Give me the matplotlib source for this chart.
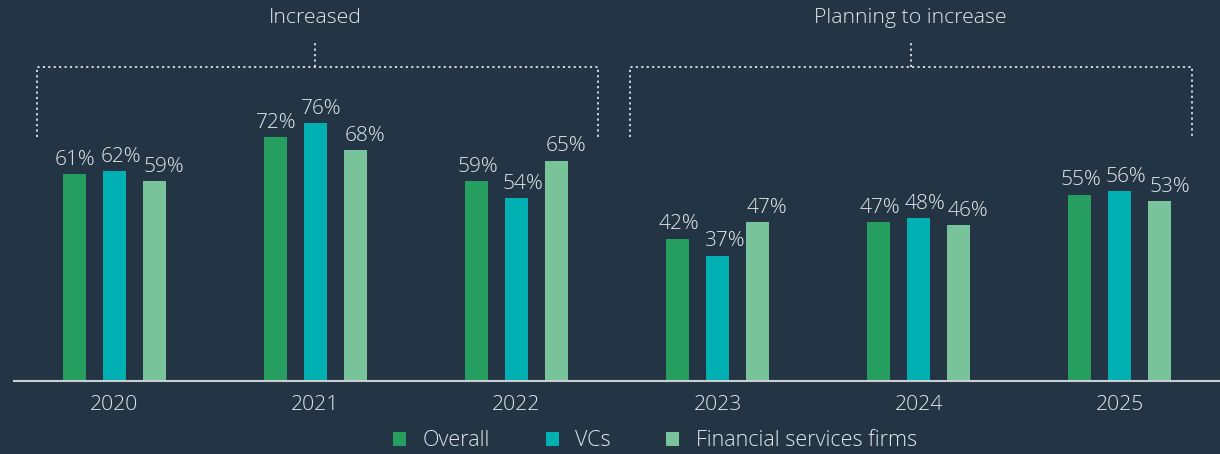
import numpy as np
import matplotlib.pyplot as plt
from matplotlib.transforms import blended_transform_factory

years = ['2020', '2021', '2022', '2023', '2024', '2025']
overall = [61, 72, 59, 42, 47, 55]
vcs = [62, 76, 54, 37, 48, 56]
fin_services = [59, 68, 65, 47, 46, 53]
series_names = ['Overall', 'VCs', 'Financial services firms']

bg = '#233544'
txt = '#e4e7ea'
colors = ['#269e60', '#00b0b2', '#78c39a']

plt.rcParams['font.family'] = ['Open Sans', 'DejaVu Sans']

fig = plt.figure(figsize=(12.2, 4.54), dpi=100, facecolor=bg)
ax = fig.add_axes([14 / 1220, 73 / 454, 1206 / 1220, 381 / 454])
ax.set_facecolor(bg)

x = np.arange(len(years))
width = 0.114
step = 0.199
# value labels sit a little to the right of their bars, more so for later series
label_shift = [0.005, 0.032, 0.047]

for i, (vals, c) in enumerate(zip([overall, vcs, fin_services], colors)):
    pos = x + (i - 1) * step
    ax.bar(pos, vals, width=width, color=c, label=series_names[i], zorder=2)
    for p, v in zip(pos, vals):
        ax.annotate(f'{v}%', (p + label_shift[i], v), xytext=(0, 3),
                    textcoords='offset points', ha='center', va='bottom',
                    color=txt, fontsize=15, fontweight='light')

ax.set_xlim(-0.4975, 5.4975)
ax.set_ylim(0, 381 / 3.39)
ax.set_xticks(x)
ax.set_xticklabels(years, color=txt, fontsize=15.2, fontweight='light')
ax.tick_params(axis='x', length=0, pad=10)
ax.set_yticks([])
for s in ['top', 'left', 'right']:
    ax.spines[s].set_visible(False)
ax.spines['bottom'].set_color('#c9ced3')
ax.spines['bottom'].set_linewidth(1.5)

# brackets above the groups
tr = blended_transform_factory(ax.transData, ax.transAxes)
y_top = 1 - 67 / 381
y_low = 1 - 137 / 381
y_stub = 1 - 40 / 381
y_lab = 1 - 18 / 381
brackets = [(-0.383, 2.408, 1.0, 'Increased'),
            (2.567, 5.358, 3.96, 'Planning to increase')]
for x0, x1, xc, lab in brackets:
    ax.plot([x0, x0, x1, x1], [y_low, y_top, y_top, y_low], transform=tr,
            color='#dfe3e6', lw=1.3, ls=(0, (1.2, 1.8)), clip_on=False)
    ax.plot([xc, xc], [y_top, y_stub], transform=tr,
            color='#dfe3e6', lw=1.3, ls=(0, (1.2, 1.8)), clip_on=False)
    ax.text(xc, y_lab, lab, transform=tr, ha='center', va='center',
            color=txt, fontsize=15.3, fontweight='light')

leg = fig.legend(loc='center', bbox_to_anchor=(655 / 1220, 1 - 441 / 454),
                 ncol=3, frameon=False, handlelength=0.6, handleheight=0.6,
                 handletextpad=0.75, columnspacing=2.6, fontsize=15.5)
for t in leg.get_texts():
    t.set_color(txt)
    t.set_fontweight('light')

fig.savefig('out.png', dpi=100, facecolor=bg)
